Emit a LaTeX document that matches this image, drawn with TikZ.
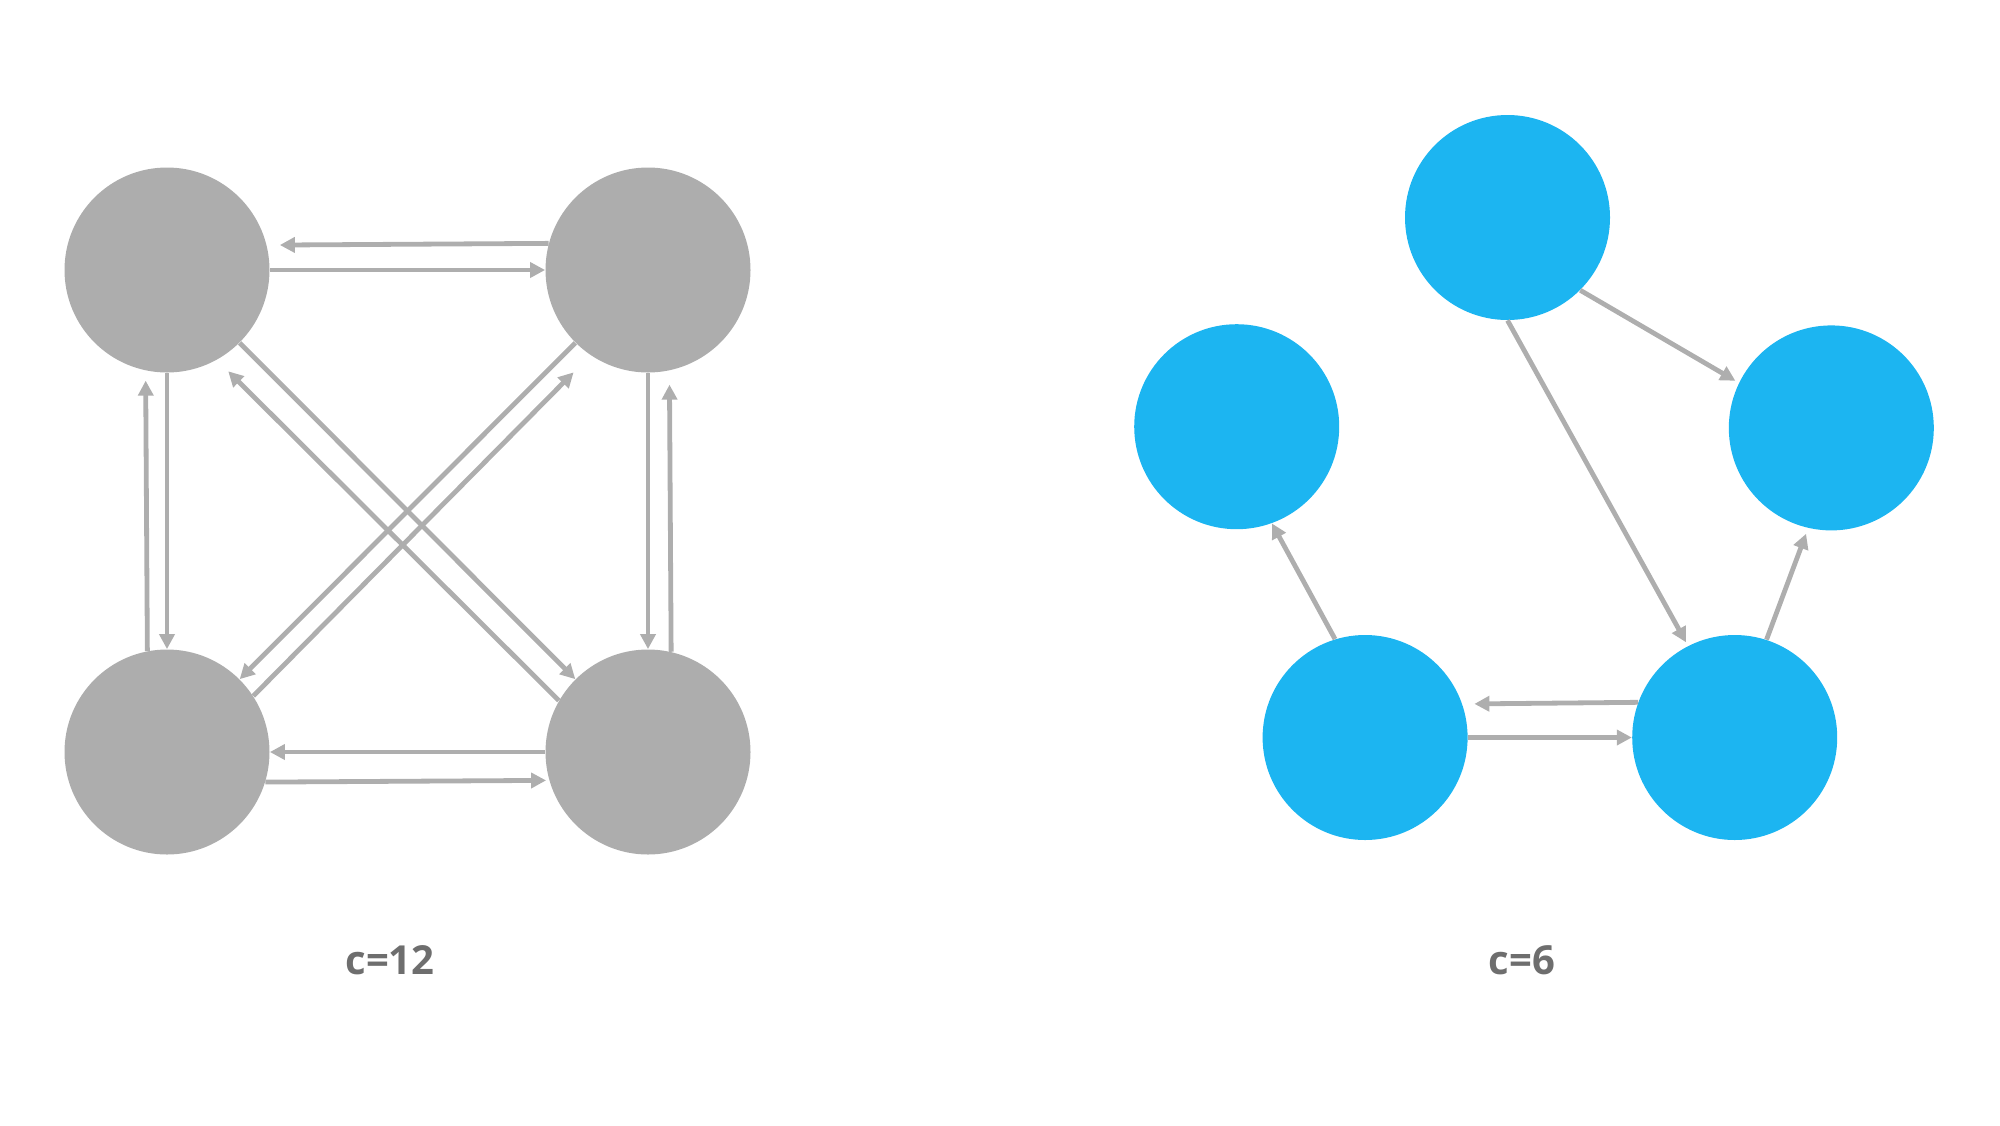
\documentclass[tikz,border=0pt]{standalone}
\usepackage{fontspec}
\setmainfont{Open Sans}
\usetikzlibrary{positioning, arrows.meta}
\definecolor{nodegrey}{RGB}{173,173,173}
\definecolor{nodeblue}{RGB}{28,181,241}
\definecolor{edgegrey}{RGB}{174,174,174}
\definecolor{textgrey}{RGB}{110,110,110}

\begin{document}
\begin{tikzpicture}[x=0.5pt,y=-0.5pt,>={Triangle[length=7.5pt,width=7.5pt]},on grid]
\tikzstyle{greynode}=[circle,fill=nodegrey,minimum size=102.5pt,inner sep=0pt]
\tikzstyle{bluenode}=[circle,fill=nodeblue,minimum size=102.5pt,inner sep=0pt]
\tikzstyle{link}=[->,color=edgegrey,line width=2.4pt]
\tikzstyle{lbl}=[text=textgrey,font=\bfseries\fontsize{20pt}{24pt}\selectfont]

\useasboundingbox (0,0) rectangle (2000,1125);

%--- left graph: nodes ---
\node[greynode] (tl) at (167,270) {};
\node[greynode] (tr) [right=240.5pt of tl] {};
\node[greynode] (bl) [below=241pt of tl] {};
\node[greynode] (br) [right=240.5pt of bl] {};

%--- left graph: edges ---
\path[link]
  (tl) edge (tr)
  (tr.165.3) edge[shorten >=6.5pt] (tl.14.7)
  (br) edge (bl)
  (bl.343.6) edge[shorten >=1.5pt] (br.196.4)
  (tl) edge (bl)
  (bl.101.25) edge[shorten >=5pt] (tl.258.75)
  (tr) edge (br)
  (br.77.6) edge[shorten >=7pt] (tr.282.4)
  (tl) edge (br)
  (br.150.5) edge[shorten >=8pt] (tl.299.5)
  (tr) edge (bl)
  (bl.33.35) edge[shorten >=12pt] (tr.236.65);

%--- right graph: nodes ---
\node[bluenode] (t) at (1507.5,217.5) {};
\node[bluenode] (l) [below left=104.6pt and 135.4pt of t] {};
\node[bluenode] (r) [below right=105.2pt and 161.9pt of t] {};
\node[bluenode] (bot l) [below left=260pt and 71.2pt of t] {};
\node[bluenode] (bot r) [right=184.8pt of bot l] {};

%--- right graph: edges ---
\path[link]
  (t.315.4) edge[shorten >=2pt] (r.154)
  (t.270) edge[shorten >=2pt] (bot r.117.2)
  (bot l.107.5) edge (l.290.6)
  (bot r.72.3) edge[shorten >=3pt] (r.257.5)
  (bot r.160.9) edge[shorten >=6pt] (bot l.19.1)
  (bot l) edge (bot r);

%--- labels ---
\node[lbl] (c12) at (390,960) {c=12};
\node[lbl] (c6) at (1521.7,960) {c=6};

\end{tikzpicture}
\end{document}
